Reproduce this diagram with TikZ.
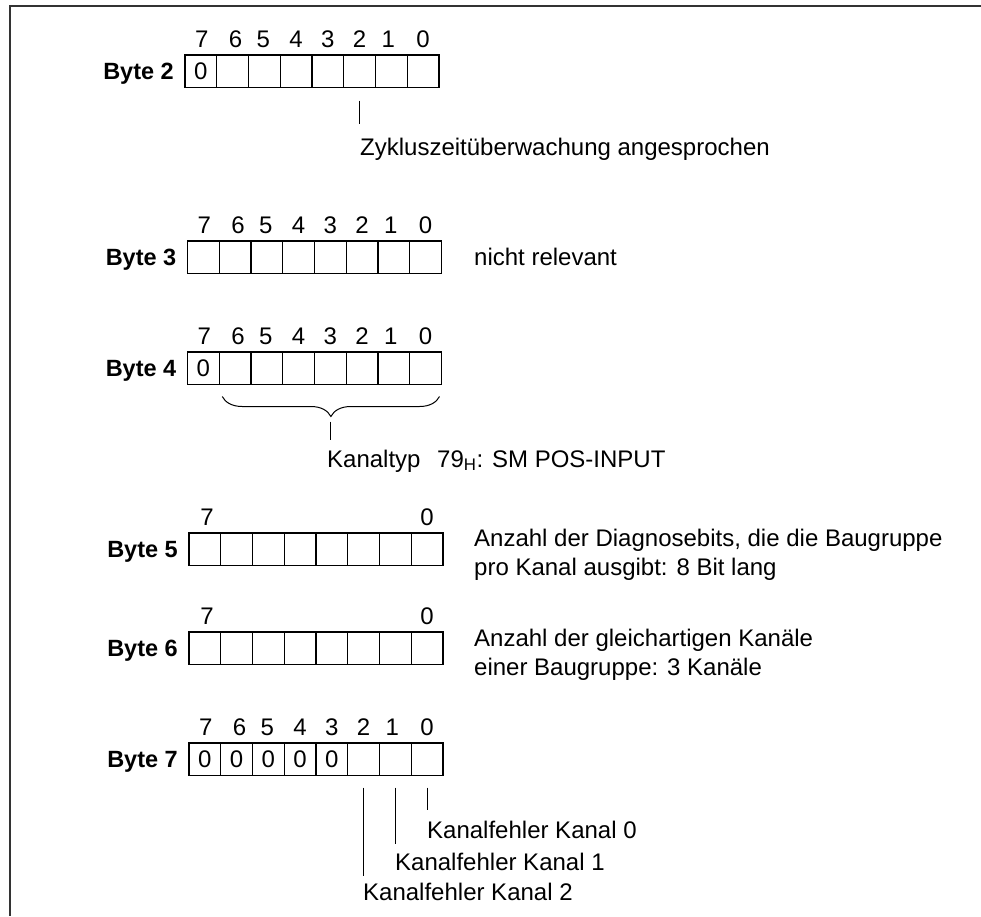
\documentclass[tikz,border=0pt]{standalone}
\usepackage{fontspec}
\setmainfont{Liberation Sans}
\usetikzlibrary{decorations.pathreplacing,calc}
\newcommand\fs{\fontsize{24}{28}\selectfont}
\newcommand\fsb{\fontsize{23.5}{28}\selectfont\bfseries}
\newcommand\byterow[5]{% name, x, y(top), label, number of leading zeros
  \foreach \k in {0,...,7}{%
    \pgfmathtruncatemacro\bit{7-\k}%
    \node[cell] (#1-\bit) at ({#2+\k*31.75},#3) {\ifnum\k<#5 0\fi};
  }
  \node[bytelabel] (#1-lbl) at ({#2-11},{#3+24}) {#4};
}
\newcommand\bitnums[3]{% name, x, y(top)
  \foreach \k/\dx in {0/1,1/3,2/-1,3/0,4/0,5/0,6/-3,7/0}{%
    \pgfmathtruncatemacro\bit{7-\k}%
    \node[bitlabel] (#1-t\bit) at ({#2+\k*31.75+15.875+\dx},{#3-8}) {\bit};
  }
}
\begin{document}
\begin{tikzpicture}[x=1pt,y=-1pt,
  cell/.style={draw, line width=1.2pt, minimum width=31.75pt, minimum height=32.5pt,
    inner sep=0pt, outer sep=0pt, anchor=north west, font=\fs},
  bitlabel/.style={font=\fs, inner sep=0pt, anchor=base},
  bytelabel/.style={font=\fsb, inner sep=0pt, anchor=base east},
  desc/.style={font=\fs, inner sep=0pt, anchor=base west},
  tickline/.style={line width=1pt},
  frameline/.style={line width=2pt, draw=black!80}]
\useasboundingbox (0,0) rectangle (981,916);
\draw[frameline] (981,5.5) -- (9.5,5.5) -- (9.5,916);

% Byte 2
\bitnums{b2}{185}{55}
\byterow{b2}{185}{55}{Byte 2}{1}
\coordinate (z2a) at ($(b2-2.south)+(0,13)$);
\coordinate (z2b) at ($(b2-2.south)+(0,36)$);
\draw[tickline] (z2a) -- (z2b);
\node[desc] (zyk) at (360,155) {Zykluszeitüberwachung angesprochen};

% Byte 3
\bitnums{b3}{187.5}{241}
\byterow{b3}{187.5}{241}{Byte 3}{0}
\node[desc] (nrel) at (474,265) {nicht relevant};

% Byte 4
\bitnums{b4}{187.5}{352}
\byterow{b4}{187.5}{352}{Byte 4}{1}
\coordinate (br1) at ($(b4-6.south west)+(3,12)$);
\coordinate (br2) at ($(b4-0.south east)+(-2,12)$);
\draw[line width=1pt, decorate, decoration={brace, mirror, amplitude=20pt}] (br1) -- (br2);
\coordinate (k4a) at ($(br1)!0.5!(br2)+(0,25)$);
\coordinate (k4b) at ($(br1)!0.5!(br2)+(0,43)$);
\draw[tickline] (k4a) -- (k4b);
\node[desc] (ktyp) at (327,467) {Kanaltyp};
\node[desc] (ktypv) at (437,467) {79\textsubscript{H}: SM POS-INPUT};

% Byte 5
\node[bitlabel] (b5-t7) at (207,525) {7};
\node[bitlabel] (b5-t0) at (427,525) {0};
\byterow{b5}{189}{533}{Byte 5}{0}
\node[desc] (b5d1) at (474,546) {Anzahl der Diagnosebits, die die Baugruppe};
\node[desc] (b5d2) at (474,575) {pro Kanal ausgibt: 8 Bit lang};

% Byte 6
\node[bitlabel] (b6-t7) at (207,624) {7};
\node[bitlabel] (b6-t0) at (427,624) {0};
\byterow{b6}{189}{632}{Byte 6}{0}
\node[desc] (b6d1) at (474,646) {Anzahl der gleichartigen Kanäle};
\node[desc] (b6d2) at (474,675) {einer Baugruppe: 3 Kanäle};

% Byte 7
\bitnums{b7}{189}{743}
\byterow{b7}{189}{743}{Byte 7}{5}
\coordinate (c0a) at ($(b7-0.south)+(0,12)$);
\coordinate (c0b) at ($(b7-0.south)+(0,34)$);
\coordinate (c1a) at ($(b7-1.south)+(0,12)$);
\coordinate (c1b) at ($(b7-1.south)+(0,68)$);
\coordinate (c2a) at ($(b7-2.south)+(0,12)$);
\coordinate (c2b) at ($(b7-2.south)+(0,100)$);
\draw[tickline] (c0a) -- (c0b);
\draw[tickline] (c1a) -- (c1b);
\draw[tickline] (c2a) -- (c2b);
\node[desc] (kf0) at (427,838) {Kanalfehler Kanal 0};
\node[desc] (kf1) at (395,870) {Kanalfehler Kanal 1};
\node[desc] (kf2) at (363,900) {Kanalfehler Kanal 2};
\end{tikzpicture}
\end{document}
